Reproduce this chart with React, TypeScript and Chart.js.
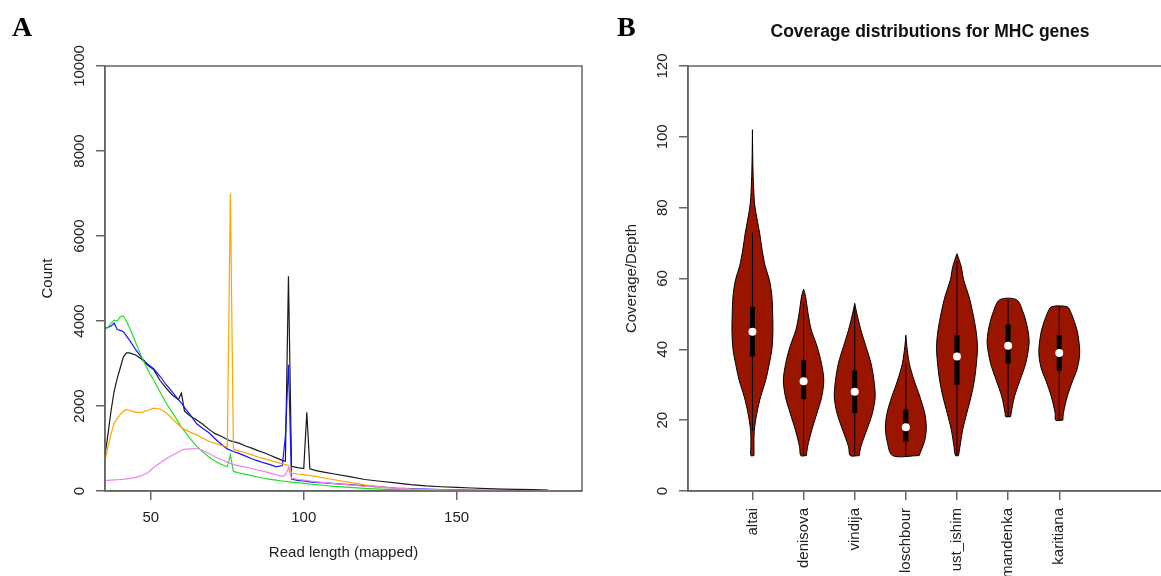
import { useEffect, useRef } from 'react';
import { Chart, registerables } from 'chart.js';

Chart.register(...registerables);

const FONT = "'Liberation Sans', Arial, Helvetica, sans-serif";
Chart.defaults.font.family = FONT;
Chart.defaults.color = '#222';

// ---------------- Panel A data ----------------
const readLength = [35, 36, 37, 38, 39, 40, 41, 42, 43, 45, 47, 49, 51, 53, 55, 57, 59, 60, 61, 63, 65, 67, 69, 71, 73, 75, 76, 77, 79, 81, 83, 85, 87, 89, 91, 93, 94, 95, 96, 98, 100, 101, 102, 104, 107, 110, 115, 120, 125, 130, 135, 140, 145, 150, 155, 160, 165, 170, 175, 180, 185, 190];

const countBlack = [850, 1350, 1900, 2350, 2650, 2900, 3150, 3250, 3250, 3200, 3100, 2960, 2850, 2600, 2420, 2260, 2150, 2300, 1880, 1760, 1670, 1570, 1450, 1350, 1290, 1210, 1180, 1160, 1120, 1060, 1010, 950, 900, 840, 780, 720, 700, 5050, 580, 550, 530, 1850, 520, 480, 440, 400, 340, 270, 230, 190, 150, 120, 100, 85, 70, 58, 46, 40, 32, 22, null, null];

const countBlue = [3830, 3850, 3880, 3950, 3800, 3780, 3750, 3650, 3550, 3330, 3130, 2980, 2870, 2700, 2500, 2330, 2150, 2070, 1960, 1780, 1580, 1470, 1370, 1230, 1100, 990, 960, 930, 880, 820, 760, 710, 660, 620, 570, 600, 1300, 2970, 280, 250, 235, 225, 215, 205, 190, 175, 150, 120, 95, 70, 55, 42, 33, 26, 20, 16, 12, 10, 8, 5, null, null];

const countGreen = [3800, 3850, 3950, 4020, 4000, 4100, 4120, 4000, 3850, 3500, 3150, 2850, 2600, 2330, 2070, 1850, 1620, 1500, 1410, 1220, 1050, 920, 800, 700, 630, 570, 850, 460, 420, 390, 360, 330, 300, 275, 255, 235, 225, 220, 210, 195, 180, 172, 165, 150, 130, 110, 85, 62, 45, 33, 25, 18, 13, 9, 6, 4, 3, 2, 1, 1, null, null];

const countOrange = [700, 1050, 1350, 1600, 1700, 1800, 1880, 1920, 1900, 1850, 1850, 1900, 1950, 1930, 1840, 1700, 1560, 1500, 1450, 1380, 1320, 1240, 1170, 1120, 1070, 1040, 7000, 980, 940, 900, 850, 800, 760, 720, 680, 640, 620, 600, 420, 400, 385, 375, 365, 345, 300, 265, 205, 145, 100, 65, 42, 27, 18, 12, 8, 5, 3, 2, 1, 1, null, null];

const countViolet = [250, 250, 255, 260, 265, 270, 275, 285, 295, 320, 360, 430, 560, 660, 760, 840, 920, 960, 980, 990, 1000, 960, 880, 800, 740, 680, 650, 620, 590, 560, 530, 495, 460, 420, 380, 345, 380, 540, 300, 275, 255, 245, 235, 215, 195, 175, 145, 112, 85, 62, 47, 36, 28, 22, 17, 12, 9, 6, 4, 2, 1, 0];

const xTicksA = [50, 100, 150];
const yTicksA = [0, 2000, 4000, 6000, 8000, 10000];

// ---------------- Panel B data ----------------
const groups = ['altai', 'denisova', 'vindija', 'loschbour', 'ust_ishim', 'mandenka', 'karitiana'];
const groupPos = [1, 2, 3, 4, 5, 6, 7];
const medians = [45, 31, 28, 18, 38, 41, 39];
const q1 = [38, 26, 22, 14, 30, 36, 34];
const q3 = [52, 37, 34, 23, 44, 47, 44];
const whiskerLo = [17, 10, 10, 10, 10, 21, 20];
const whiskerHi = [73, 53, 52, 36, 65, 54, 52];

// violin outline: coverage levels and half-widths (in category units)
const levelsAltai = [10, 13, 17, 22, 26.6, 31.3, 36, 40, 45, 50, 55, 59.7, 63.5, 68, 72.9, 76, 80.8, 85, 90, 95, 102];
const widthsAltai = [0.03, 0.03, 0.035, 0.087, 0.16, 0.26, 0.33, 0.38, 0.4, 0.395, 0.38, 0.33, 0.25, 0.19, 0.14, 0.1, 0.045, 0.025, 0.012, 0.005, 0];
const levelsDenisova = [10, 12.5, 17.2, 21.9, 26.6, 31.3, 36, 40.8, 45.5, 50.2, 54.9, 57];
const widthsDenisova = [0.055, 0.078, 0.16, 0.26, 0.355, 0.395, 0.35, 0.265, 0.15, 0.087, 0.04, 0];
const levelsVindija = [10, 12.5, 17.2, 21.9, 26.6, 31.3, 36, 40.8, 45.5, 50.2, 53];
const widthsVindija = [0.087, 0.12, 0.235, 0.345, 0.4, 0.375, 0.32, 0.22, 0.12, 0.04, 0];
const levelsLoschbour = [10, 14.3, 18.1, 21.9, 26.6, 31.3, 36, 40.8, 44];
const widthsLoschbour = [0.26, 0.37, 0.4, 0.37, 0.275, 0.16, 0.068, 0.02, 0];
const levelsUstIshim = [10, 12.5, 17.2, 21.9, 26.6, 31.3, 36, 40.8, 45.5, 50.2, 54.9, 59.6, 63.5, 67];
const widthsUstIshim = [0.03, 0.058, 0.11, 0.19, 0.275, 0.34, 0.38, 0.4, 0.37, 0.31, 0.235, 0.13, 0.08, 0];
const levelsMandenka = [21, 21.9, 26.6, 31.3, 36, 41.7, 45.5, 50.2, 54];
const widthsMandenka = [0.05, 0.058, 0.123, 0.233, 0.343, 0.41, 0.385, 0.3, 0.165];
const levelsKaritiana = [20, 21.9, 26.6, 31.3, 34.2, 37.9, 40.8, 45.5, 50.2, 52];
const widthsKaritiana = [0.07, 0.08, 0.155, 0.265, 0.345, 0.395, 0.395, 0.345, 0.233, 0.155];

const yTicksB = [0, 20, 40, 60, 80, 100, 120];

const violinLevels = [levelsAltai, levelsDenisova, levelsVindija, levelsLoschbour, levelsUstIshim, levelsMandenka, levelsKaritiana];
const violinWidths = [widthsAltai, widthsDenisova, widthsVindija, widthsLoschbour, widthsUstIshim, widthsMandenka, widthsKaritiana];

// ---------------- Styling ----------------
const axisColor = '#666';
const textColor = '#222';
const gridOpts = { drawOnChartArea: false, drawTicks: true, tickLength: 9, color: axisColor, lineWidth: 1.5 };
const borderOpts = { display: true, color: axisColor, width: 1.5 };
const tickFont = { size: 15, family: FONT };

const framePlugin = {
  id: 'frame',
  afterDraw(chart: any) {
    const { ctx, chartArea } = chart;
    ctx.save();
    ctx.strokeStyle = axisColor;
    ctx.lineWidth = 1.5;
    ctx.strokeRect(chartArea.left, chartArea.top, chartArea.right - chartArea.left, chartArea.bottom - chartArea.top);
    ctx.restore();
  },
};

function configA(): any {
  const series = [
    { name: 'black', values: countBlack, color: '#1a1a1a', order: 5 },
    { name: 'blue', values: countBlue, color: '#1414ff', order: 4 },
    { name: 'green', values: countGreen, color: '#22e022', order: 3 },
    { name: 'orange', values: countOrange, color: '#ffa500', order: 2 },
    { name: 'violet', values: countViolet, color: '#ee82ee', order: 1 },
  ];
  return {
    type: 'line',
    data: {
      datasets: series.map((s) => ({
        label: s.name,
        data: readLength.map((x, i) => ({ x, y: s.values[i] })),
        borderColor: s.color,
        borderWidth: 1.2,
        pointRadius: 0,
        tension: 0,
        fill: false,
        spanGaps: false,
        order: s.order,
      })),
    },
    options: {
      responsive: false,
      animation: false,
      devicePixelRatio: 1,
      events: [],
      layout: { padding: { top: 66, right: 18, left: 0, bottom: 0 } },
      plugins: { legend: { display: false }, tooltip: { enabled: false } },
      scales: {
        x: {
          type: 'linear',
          min: 35,
          max: 191,
          afterBuildTicks: (s: any) => { s.ticks = xTicksA.map((v) => ({ value: v })); },
          afterFit: (s: any) => { s.height = 85; },
          grid: gridOpts,
          border: borderOpts,
          ticks: { color: textColor, font: tickFont, padding: 9, minRotation: 0, maxRotation: 0, autoSkip: false, callback: (v: any) => String(v) },
          title: { display: true, text: 'Read length (mapped)', color: textColor, font: tickFont, padding: { top: 0, bottom: 14 } },
        },
        y: {
          type: 'linear',
          min: 0,
          max: 10000,
          afterBuildTicks: (s: any) => { s.ticks = yTicksA.map((v) => ({ value: v })); },
          afterFit: (s: any) => { s.width = 105; },
          grid: gridOpts,
          border: borderOpts,
          ticks: { color: textColor, font: tickFont, minRotation: 90, maxRotation: 90, crossAlign: 'center', padding: -4.85, autoSkip: false, callback: (v: any) => String(v) },
          title: { display: true, text: 'Count', color: textColor, font: tickFont, padding: { top: 39, bottom: 0 } },
        },
      },
    },
    plugins: [framePlugin],
  };
}

function configB(): any {
  const violins = groups.map((g, i) => {
    const lv = violinLevels[i];
    const w = violinWidths[i];
    const p = groupPos[i];
    const right = lv.map((y, k) => ({ x: p + w[k], y }));
    const left = lv.map((y, k) => ({ x: p - w[k], y })).reverse();
    return {
      type: 'line',
      label: g,
      data: [...right, ...left, right[0]],
      borderColor: '#000',
      borderWidth: 1,
      backgroundColor: '#9a1500',
      fill: 'shape',
      pointRadius: 0,
      tension: 0.3,
      order: 4,
    };
  });
  const whiskers = groups.map((g, i) => ({
    type: 'line',
    label: g + ' whisker',
    data: [{ x: groupPos[i], y: whiskerLo[i] }, { x: groupPos[i], y: whiskerHi[i] }],
    borderColor: '#000',
    borderWidth: 1,
    pointRadius: 0,
    fill: false,
    order: 3,
  }));
  const boxes = groups.map((g, i) => ({
    type: 'line',
    label: g + ' iqr',
    data: [{ x: groupPos[i], y: q1[i] }, { x: groupPos[i], y: q3[i] }],
    borderColor: '#000',
    borderWidth: 5,
    borderCapStyle: 'butt',
    pointRadius: 0,
    fill: false,
    order: 2,
  }));
  const med = {
    type: 'scatter',
    label: 'median',
    data: groupPos.map((p, i) => ({ x: p, y: medians[i] })),
    pointRadius: 4,
    pointBackgroundColor: '#fff',
    pointBorderColor: '#fff',
    pointBorderWidth: 0,
    showLine: false,
    order: 1,
  };
  return {
    type: 'line',
    data: { datasets: [...violins, ...whiskers, ...boxes, med] },
    options: {
      responsive: false,
      animation: false,
      devicePixelRatio: 1,
      events: [],
      layout: { padding: { top: 0, right: 0, left: 0, bottom: 0 } },
      plugins: {
        legend: { display: false },
        tooltip: { enabled: false },
        title: {
          display: true,
          text: 'Coverage distributions for MHC genes',
          color: '#111',
          font: { size: 17.5, weight: 'bold', family: FONT, lineHeight: 1.2 },
          padding: { top: 21.5, bottom: 23.5 },
        },
      },
      scales: {
        x: {
          type: 'linear',
          min: -0.26,
          max: 10.847,
          afterBuildTicks: (s: any) => { s.ticks = groupPos.map((v) => ({ value: v })); },
          afterFit: (s: any) => { s.height = 85; },
          grid: gridOpts,
          border: borderOpts,
          ticks: {
            color: textColor,
            font: tickFont,
            padding: 8,
            minRotation: 90,
            maxRotation: 90,
            autoSkip: false,
            callback: (v: any) => groups[groupPos.indexOf(v)],
          },
        },
        y: {
          type: 'linear',
          min: 0,
          max: 120,
          afterBuildTicks: (s: any) => { s.ticks = yTicksB.map((v) => ({ value: v })); },
          afterFit: (s: any) => { s.width = 88; },
          grid: gridOpts,
          border: borderOpts,
          ticks: { color: textColor, font: tickFont, minRotation: 90, maxRotation: 90, crossAlign: 'center', padding: 3.5, autoSkip: false, callback: (v: any) => String(v) },
          title: { display: true, text: 'Coverage/Depth', color: textColor, font: tickFont, padding: { top: 23, bottom: 0 } },
        },
      },
    },
    plugins: [framePlugin],
  };
}

export default function App() {
  const refA = useRef<HTMLCanvasElement>(null);
  const refB = useRef<HTMLCanvasElement>(null);
  useEffect(() => {
    const a = new Chart(refA.current as HTMLCanvasElement, configA());
    const b = new Chart(refB.current as HTMLCanvasElement, configB());
    return () => {
      a.destroy();
      b.destroy();
    };
  }, []);
  const panelLetter: any = {
    position: 'absolute',
    top: 12.5,
    fontFamily: "'Liberation Serif', 'Times New Roman', serif",
    fontWeight: 'bold',
    fontSize: 28,
    lineHeight: '28px',
    color: '#000',
  };
  return (
    <div style={{ position: 'absolute', left: 0, top: 0, width: 1161, height: 576, overflow: 'hidden', background: '#fff' }}>
      <canvas ref={refA} width={600} height={576} style={{ position: 'absolute', left: 0, top: 0, width: 600, height: 576 }} />
      <canvas ref={refB} width={660} height={576} style={{ position: 'absolute', left: 600, top: 0, width: 660, height: 576 }} />
      <div style={{ ...panelLetter, left: 12 }}>A</div>
      <div style={{ ...panelLetter, left: 617 }}>B</div>
    </div>
  );
}
